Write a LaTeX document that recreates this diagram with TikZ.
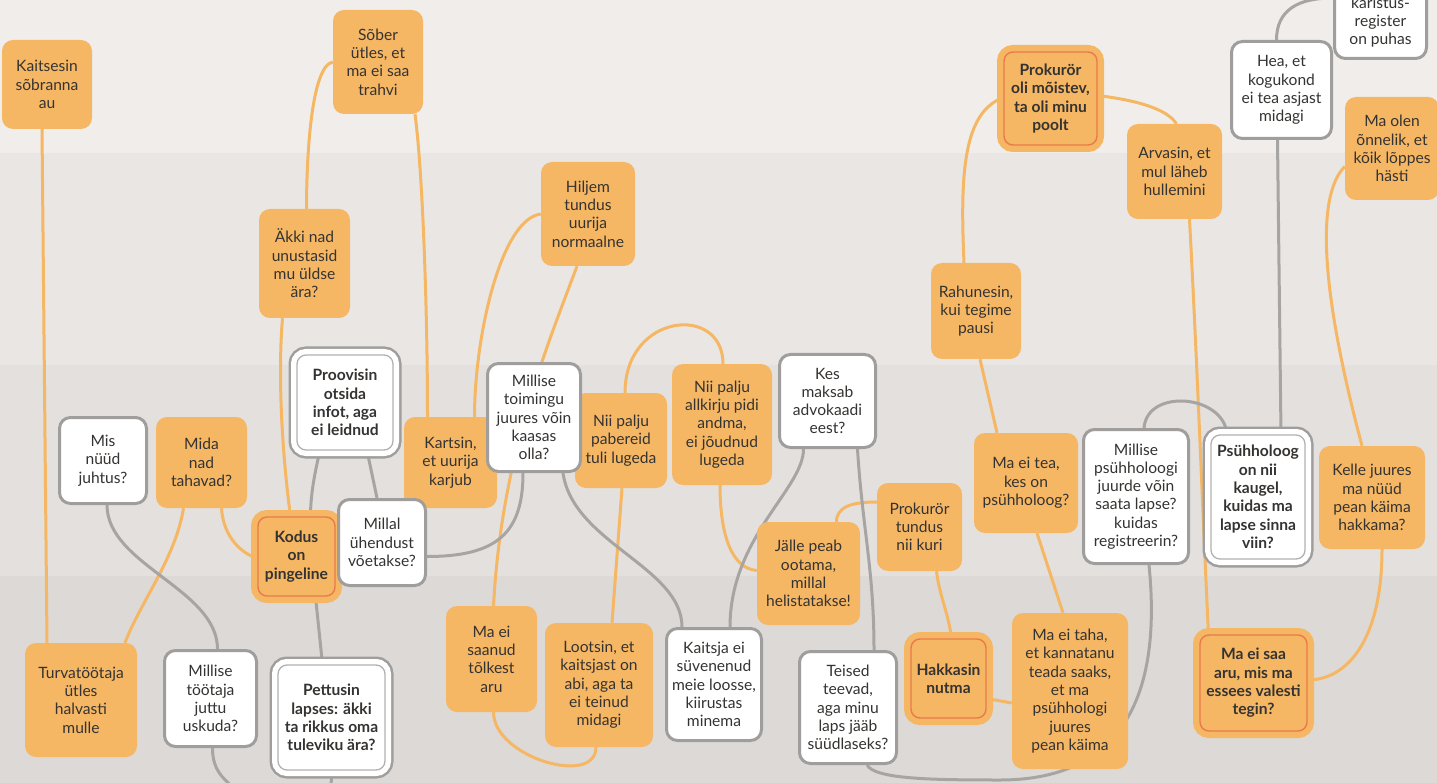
\documentclass[tikz,border=0pt]{standalone}
\usepackage{fontspec}
\setmainfont{Lato}
\definecolor{orng}{HTML}{F5B764}
\definecolor{keyred}{HTML}{EA7A4B}
\definecolor{glin}{HTML}{A7A5A3}
\definecolor{gbox}{HTML}{A09E9C}
\definecolor{ink}{HTML}{353331}
\definecolor{bandA}{HTML}{F0EDEA}
\definecolor{bandB}{HTML}{EAE6E3}
\definecolor{bandC}{HTML}{E4E0DD}
\definecolor{bandD}{HTML}{DDD9D6}
\pgfdeclarelayer{back}
\pgfdeclarelayer{wires}
\pgfsetlayers{back,wires,main}
\tikzset{
    sz/.style 2 args={minimum width=#1pt, minimum height=#2pt},
    ora/.style={fill=orng, rounded corners=11pt},
    wht/.style={fill=white, draw=gbox, line width=3pt, rounded corners=11pt},
    key/.style={fill=orng, draw=keyred, line width=1.4pt, rounded corners=9pt,
        preaction={draw=orng, line width=14pt}, font=\fontsize{15.6}{18.3}\selectfont\bfseries},
    wkey/.style={fill=white, draw=gbox!80, line width=1.3pt, rounded corners=9pt,
        preaction={draw=gbox, line width=17pt}, preaction={draw=white, line width=12pt},
        font=\fontsize{15.6}{18.3}\selectfont\bfseries},
    oline/.style={draw=orng, line width=3pt},
    gline/.style={draw=glin, line width=3pt}
}

\begin{document}
\begin{tikzpicture}[x=1pt,y=-1pt,
    every node/.style={font=\fontsize{15.6}{18.3}\selectfont, text=ink, align=center, inner sep=0pt}]
    \useasboundingbox (0,0) rectangle (1437,783);

    \begin{pgfonlayer}{back}
        \fill[bandA] (0,0) rectangle (1437,153);
        \fill[bandB] (0,153) rectangle (1437,365);
        \fill[bandC] (0,365) rectangle (1437,576);
        \fill[bandD] (0,576) rectangle (1437,783);
    \end{pgfonlayer}

    % orange boxes
    \node[ora, sz={90}{89}] (kaitsesin) at (47,84.5) {Kaitsesin\\sõbranna\\au};
    \node[ora, sz={90}{104}] (sober) at (378,62) {Sõber\\ütles, et\\ma ei saa\\trahvi};
    \node[ora, sz={95}{95}] (arvasin) at (1174.5,171.5) {Arvasin, et\\mul läheb\\hullemini};
    \node[ora, sz={94}{103}] (maolen) at (1392,148.5) {Ma olen\\õnnelik, et\\kõik lõppes\\hästi};
    \node[ora, sz={91}{109}] (akki) at (304.5,263.5) {Äkki nad\\unustasid\\mu üldse\\ära?};
    \node[ora, sz={94}{104}] (hiljem) at (588,214) {Hiljem\\tundus\\uurija\\normaalne};
    \node[ora, sz={90}{96}] (rahunesin) at (976,311) {Rahunesin,\\kui tegime\\pausi};
    \node[ora, sz={91}{91}] (mida) at (201.5,462.5) {Mida\\nad\\tahavad?};
    \node[ora, sz={93}{91}] (kartsin) at (450.5,462.5) {Kartsin,\\et uurija\\karjub};
    \node[ora, sz={92}{95}] (pabereid) at (621,440.5) {Nii palju\\pabereid\\tuli lugeda};
    \node[ora, sz={100}{121}] (allkirju) at (722,424.5) {Nii palju\\allkirju pidi\\andma,\\ei jõudnud\\lugeda};
    \node[ora, sz={103}{103}] (jalle) at (808.5,573.5) {Jälle peab\\ootama,\\millal\\helistatakse!};
    \node[ora, sz={85}{88}] (prokkuri) at (919.5,527) {Prokurör\\tundus\\nii kuri};
    \node[ora, sz={104}{100}] (maeitea) at (1026,483) {Ma ei tea,\\kes on\\psühholoog?};
    \node[ora, sz={106}{103}] (kelle) at (1372,497.5) {Kelle juures\\ma nüüd\\pean käima\\hakkama?};
    \node[ora, sz={112}{114}] (turva) at (81,700) {Turvatöötaja\\ütles\\halvasti\\mulle};
    \node[ora, sz={91}{106}] (saanud) at (491.5,659) {Ma ei\\saanud\\tõlkest\\aru};
    \node[ora, sz={108}{124}] (lootsin) at (599,685) {Lootsin, et\\kaitsjast on\\abi, aga ta\\ei teinud\\midagi};
    \node[ora, sz={116}{156}] (mataha) at (1070,691) {Ma ei taha,\\et kannatanu\\teada saaks,\\et ma\\psühhologi\\juures\\pean käima};

    \node[key, sz={93}{93}] (prokmoi) at (1050.5,98.5) {Prokurör\\oli mõistev,\\ta oli minu\\poolt};
    \node[key, sz={77}{79}] (kodus) at (296.5,556.5) {Kodus\\on\\pingeline};
    \node[key, sz={75}{79}] (hakkasin) at (948.5,678.5) {Hakkasin\\nutma};
    \node[key, sz={107}{96}] (maeisaa) at (1253.5,683) {Ma ei saa\\aru, mis ma\\essees valesti\\tegin?};

    % white boxes
    \node[wht, sz={87}{86}] (mis) at (103,460.5) {Mis\\nüüd\\juhtus?};
    \node[wht, sz={93}{108}] (toimingu) at (534,417.5) {Millise\\toimingu\\juures võin\\kaasas\\olla?};
    \node[wht, sz={96}{93}] (kes) at (827.5,401) {Kes\\maksab\\advokaadi\\eest?};
    \node[wht, sz={87}{86}] (millal) at (382,542.5) {Millal\\ühendust\\võetakse?};
    \node[wht, sz={105}{134}] (psuhho) at (1136,496.5) {Millise\\psühholoogi\\juurde võin\\saata lapse?\\kuidas\\registreerin?};
    \node[wht, sz={100}{97}] (hea) at (1281.5,90) {Hea, et\\kogukond\\ei tea asjast\\midagi};
    \node[wht, sz={92}{73}] (karistus) at (1380.5,22) {karistus-\\register\\on puhas};
    \node[wht, sz={92}{96}] (tootaja) at (210.5,698.5) {Millise\\töötaja\\juttu\\uskuda?};
    \node[wht, sz={95}{112}] (kaitsja) at (714,684.5) {Kaitsja ei\\süvenenud\\meie loosse,\\kiirustas\\minema};
    \node[wht, sz={97}{112}] (teised) at (848,707.5) {Teised\\teevad,\\aga minu\\laps jääb\\süüdlaseks?};

    \node[wkey, sz={96}{95}] (proovisin) at (345,402.5) {Proovisin\\otsida\\infot, aga\\ei leidnud};
    \node[wkey, sz={107}{105}] (pettusin) at (331.5,717.5) {Pettusin\\lapses: äkki\\ta rikkus oma\\tuleviku ära?};
    \node[wkey, sz={94}{124}] (kaugel) at (1258,497) {Psühholoog\\on nii\\kaugel,\\kuidas ma\\lapse sinna\\viin?};

    \coordinate (tootout) at (238,792);
    \coordinate (pettout) at (331,792);
    \coordinate (loopbot) at (1000,780);

    \begin{pgfonlayer}{wires}
        \draw[oline] ([xshift=-5pt]kaitsesin.south) -- ([xshift=-34pt]turva.north);
        \draw[oline] (sober.west) .. controls +(-22,4) and +(0,-50) .. ([xshift=2pt]akki.north);
        \draw[oline] ([xshift=-22pt]akki.south) .. controls +(-5,60) and +(-8,-60) .. ([xshift=-6pt]kodus.north);
        \draw[oline] ([xshift=37pt]sober.south) .. controls +(8,60) and +(0,-100) .. ([xshift=-23pt]kartsin.north);
        \draw[oline] (hiljem.west) .. controls +(-40,5) and +(0,-80) .. ([xshift=24pt]kartsin.north);
        \draw[oline] ([xshift=-11pt]hiljem.south) .. controls +(-30,80) and +(8,-150) .. ([xshift=2pt]saanud.north);
        \draw[oline] ([xshift=4pt]pabereid.north) .. controls +(0,-80) and +(0,-60) .. ([xshift=1pt]allkirju.north);
        \draw[oline] ([xshift=1pt]pabereid.south) -- ([xshift=13pt]lootsin.north);
        \draw[oline] ([xshift=2pt]saanud.south) .. controls +(0,45) and +(0,40) .. ([xshift=-3pt]lootsin.south);
        \draw[oline] ([xshift=-2pt]allkirju.south) .. controls +(0,50) and +(-25,-2) .. ([yshift=3pt]jalle.west);
        \draw[oline] ([yshift=25pt]prokkuri.west) .. controls +(-25,0) and +(0,-15) .. ([xshift=28pt]jalle.north);
        \draw[oline] ([xshift=17pt]prokkuri.south) .. controls +(3,25) and +(-3,-25) .. ([xshift=3pt]hakkasin.north);
        \draw[oline] ([yshift=-20pt]hakkasin.east) -- ([yshift=-12pt]mataha.west);
        \draw[oline] ([xshift=11pt]maeitea.south) -- ([xshift=-7pt]mataha.north);
        \draw[oline] ([xshift=4pt]rahunesin.south) -- ([xshift=-29pt]maeitea.north);
        \draw[oline] ([xshift=-12pt]rahunesin.north) .. controls +(-4,-90) and +(-40,15) .. ([yshift=1pt]prokmoi.west);
        \draw[oline] ([yshift=3pt]prokmoi.east) .. controls +(40,5) and +(-10,-15) .. ([xshift=2pt]arvasin.north);
        \draw[oline] ([xshift=15pt]arvasin.south) .. controls +(8,150) and +(-5,-100) .. ([xshift=-45pt]maeisaa.north);
        \draw[oline] ([yshift=-18pt]maolen.west) .. controls +(-30,30) and +(-40,-150) .. ([xshift=-10pt]kelle.north);
        \draw[oline] ([xshift=10pt]kelle.south) .. controls +(0,90) and +(40,0) .. ([yshift=3pt]maeisaa.east);
        \draw[oline] ([xshift=-18pt]mida.south) .. controls +(-8,50) and +(15,-40) .. ([xshift=44pt]turva.north);
        \draw[oline] ([xshift=20pt]mida.south) .. controls +(2,30) and +(-15,-5) .. ([yshift=-2pt]kodus.west);

        \draw[gline] ([xshift=4pt]mis.south) .. controls +(0,60) and +(0,-60) .. ([xshift=7pt]tootaja.north);
        \draw[gline] ([xshift=2pt]tootaja.south) .. controls +(0,25) and +(-12,-12) .. (tootout);
        \draw[gline] (pettusin.south) -- (pettout);
        \draw[gline] ([xshift=19pt]kodus.south) -- ([xshift=-9pt]pettusin.north);
        \draw[gline] ([xshift=-25pt]proovisin.south) .. controls +(-6,25) and +(0,-20) .. ([xshift=14pt]kodus.north);
        \draw[gline] ([xshift=22pt]proovisin.south) -- ([xshift=-5pt]millal.north);
        \draw[gline] ([yshift=-14pt]millal.east) .. controls +(70,0) and +(0,60) .. ([xshift=-11pt]toimingu.south);
        \draw[gline] ([xshift=29pt]toimingu.south) .. controls +(10,70) and +(0,-60) .. ([xshift=-32pt]kaitsja.north);
        \draw[gline] ([xshift=-24pt]kes.south) .. controls +(0,40) and +(0,-90) .. ([xshift=16pt]kaitsja.north);
        \draw[gline] ([xshift=30pt]kes.south) .. controls +(5,80) and +(0,-80) .. ([xshift=26pt]teised.north);
        \draw[gline] ([xshift=19pt]teised.south) .. controls +(8,14) and +(-70,0) .. (loopbot)
            .. controls +(130,0) and +(12,120) .. ([xshift=13pt]psuhho.south);
        \draw[gline] ([xshift=8pt]psuhho.north) .. controls +(3,-40) and +(-3,-40) .. ([xshift=-31pt]kaugel.north);
        \draw[gline] ([xshift=-4pt]hea.south) -- ([xshift=23pt]kaugel.north);
        \draw[gline] ([xshift=-5pt]hea.north) .. controls +(0,-30) and +(-35,0) .. ([yshift=-14pt]karistus.north west);
    \end{pgfonlayer}
\end{tikzpicture}
\end{document}
